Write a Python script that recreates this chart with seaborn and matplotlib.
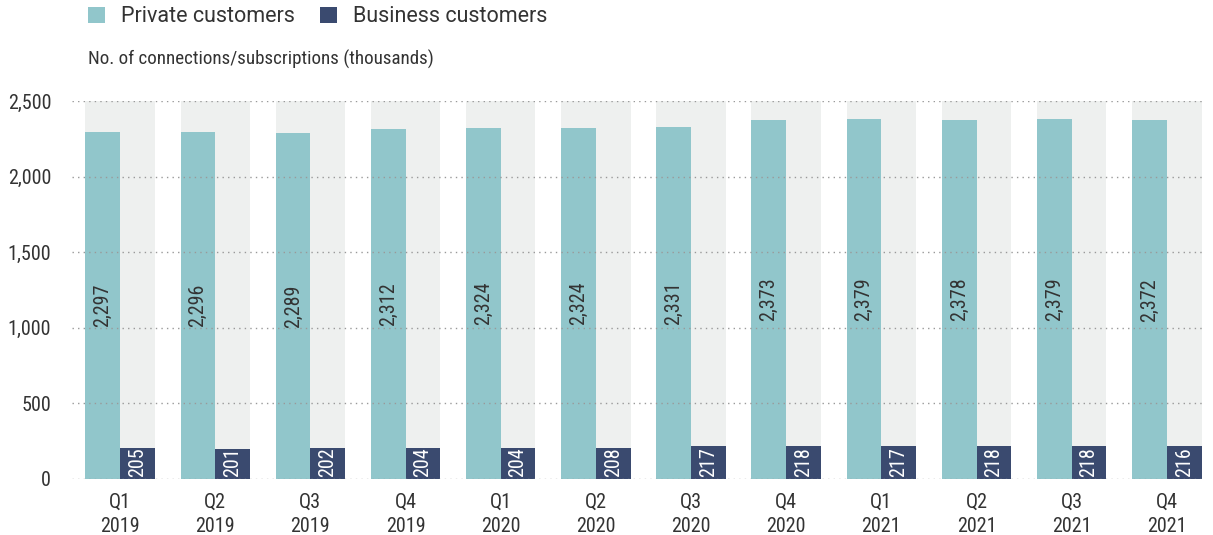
import matplotlib
matplotlib.use("Agg")
import matplotlib.pyplot as plt
from matplotlib import font_manager
from matplotlib.patches import Patch
import seaborn as sns
import pandas as pd

quarters = ["Q1\n2019", "Q2\n2019", "Q3\n2019", "Q4\n2019",
            "Q1\n2020", "Q2\n2020", "Q3\n2020", "Q4\n2020",
            "Q1\n2021", "Q2\n2021", "Q3\n2021", "Q4\n2021"]
private = [2297, 2296, 2289, 2312, 2324, 2324, 2331, 2373, 2379, 2378, 2379, 2372]
business = [205, 201, 202, 204, 204, 208, 217, 218, 217, 218, 218, 216]
series_names = ["Private customers", "Business customers"]
y_ticks = [0, 500, 1000, 1500, 2000, 2500]

TEAL = "#91c6cb"
NAVY = "#3a4a6f"
BAND = "#eef0ef"
TEXT = "#333333"

sns.set_style("white")
installed = {f.name for f in font_manager.fontManager.ttflist}


def pick(candidates):
    for name in candidates:
        if name in installed:
            return name
    return "DejaVu Sans"


NARROW = pick(["Roboto Condensed", "Archivo Narrow", "PT Sans Narrow",
               "Liberation Sans Narrow", "Barlow Semi Condensed", "Fira Sans Condensed"])
REGULAR = pick(["Roboto", "Liberation Sans", "Noto Sans"])
plt.rcParams["font.family"] = [NARROW, "DejaVu Sans"]

df = pd.DataFrame({
    "quarter": quarters * 2,
    "value": private + business,
    "segment": [series_names[0]] * len(quarters) + [series_names[1]] * len(quarters),
})

fig = plt.figure(figsize=(12.13, 5.35), dpi=100)
ax = fig.add_axes([0.0594, 0.1047, 0.9316, 0.7064])

group_w = 0.73
# light band behind each quarter's pair of bars
ax.bar(range(len(quarters)), [y_ticks[-1]] * len(quarters), width=group_w,
       color=BAND, zorder=0, linewidth=0)

sns.barplot(data=df, x="quarter", y="value", hue="segment",
            palette=[TEAL, NAVY], width=group_w, gap=0, ax=ax,
            saturation=1, legend=False, zorder=2, linewidth=0)

ax.set_ylim(0, 2500)
ax.set_xlim(-0.505, 11.37)
ax.set_yticks(y_ticks)
ax.set_yticklabels([f"{v:,}" for v in y_ticks])
ax.yaxis.grid(True, linestyle=(0, (1, 3)), color="#999999", linewidth=1.0)
ax.set_axisbelow(False)
for gl in ax.get_ygridlines():
    gl.set_zorder(1)
for s in ax.spines.values():
    s.set_visible(False)
ax.tick_params(axis="both", length=0, labelsize=14.5, colors=TEXT)
ax.tick_params(axis="x", pad=10)
ax.tick_params(axis="y", pad=15)
for lab in ax.get_xticklabels():
    lab.set_linespacing(1.35)
ax.set_xlabel("")
ax.set_ylabel("")

# value labels inside the bars
priv_bars, bus_bars = ax.containers[-2], ax.containers[-1]
for bar, v in zip(priv_bars, private):
    ax.text(bar.get_x() + bar.get_width() / 2, v / 2, f"{v:,}",
            rotation=90, rotation_mode="anchor", ha="center", va="center",
            fontsize=14.5, color=TEXT, zorder=3)
for bar, v in zip(bus_bars, business):
    ax.text(bar.get_x() + bar.get_width() / 2, 14, f"{v:,}",
            rotation=90, rotation_mode="anchor", ha="left", va="center",
            fontsize=14.5, color="white", zorder=3)

handles = [Patch(facecolor=TEAL, edgecolor="none"),
           Patch(facecolor=NAVY, edgecolor="none")]
fig.legend(handles, series_names, loc="center left", bbox_to_anchor=(0.0725, 0.969),
           ncol=2, frameon=False, prop={"family": REGULAR, "size": 15.5},
           borderpad=0, borderaxespad=0,
           handlelength=0.77, handleheight=0.77, handletextpad=0.78,
           columnspacing=1.15, labelcolor=TEXT)
fig.text(0.0728, 0.8785, "No. of connections/subscriptions (thousands)",
         fontsize=13.7, color=TEXT, ha="left", va="baseline")

fig.savefig("out.png", dpi=100)
